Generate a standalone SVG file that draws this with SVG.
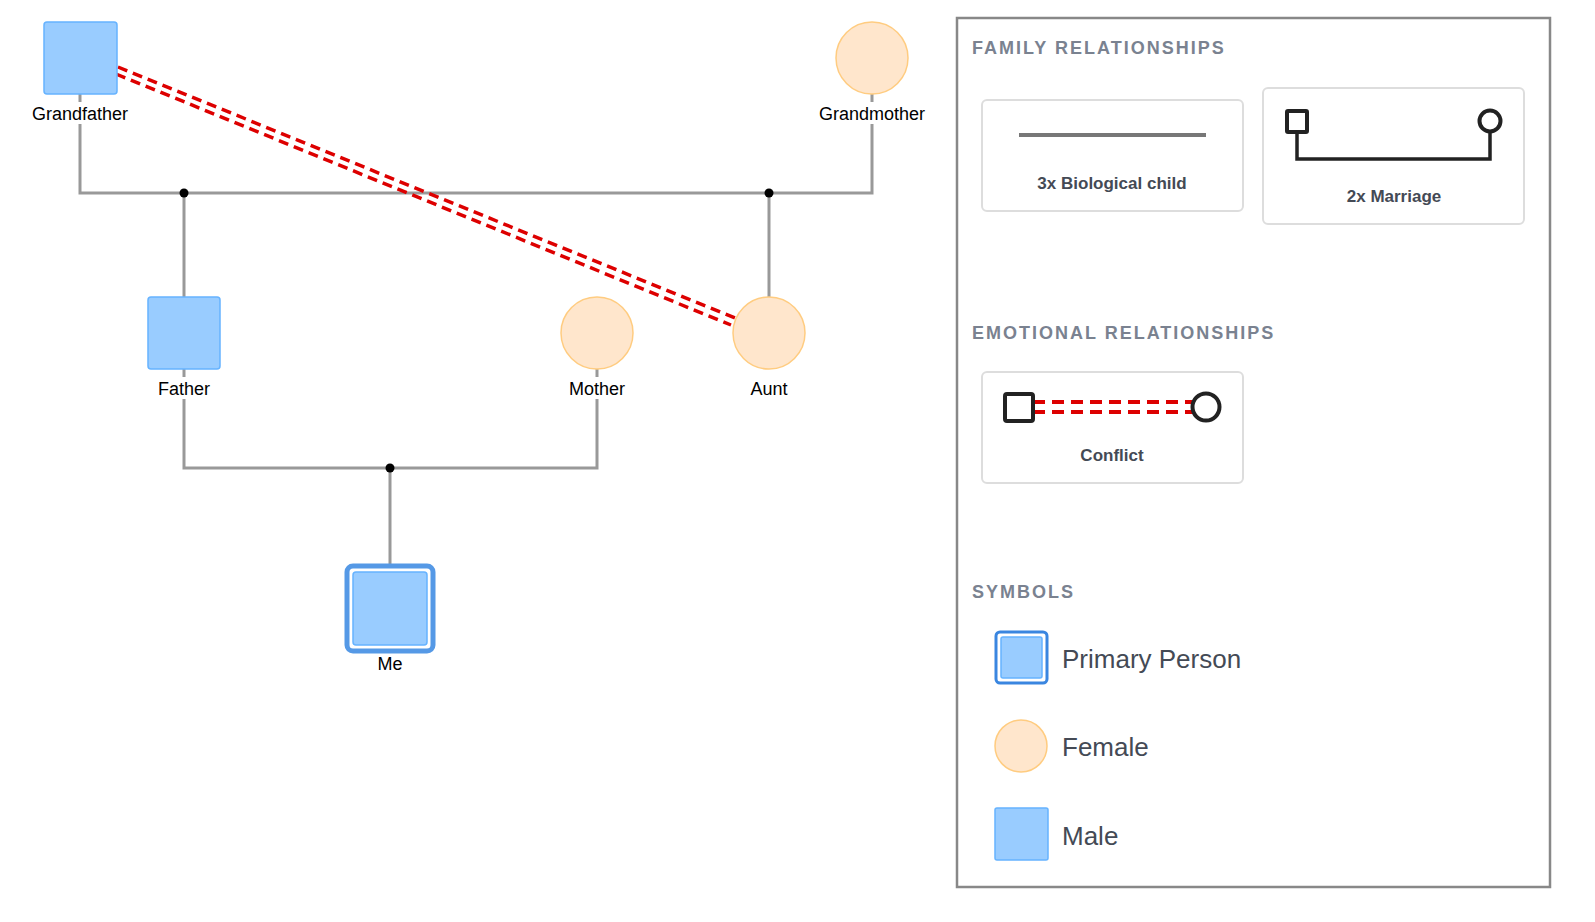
<svg xmlns="http://www.w3.org/2000/svg" width="1595" height="922" viewBox="0 0 1595 922">
<style>
.m{fill:#99ccff;stroke:#66b3ff;stroke-width:1.5}
.f{fill:#ffe6cc;stroke:#ffcc80;stroke-width:1.5}
.lbl{font-family:"Liberation Sans",Arial,sans-serif;font-size:18px;fill:#000;text-anchor:middle}
.ln{stroke:#999;stroke-width:3;fill:none}
.cf{stroke:#dd0000;stroke-width:3.5;stroke-dasharray:10 6;fill:none}
.hd{font-family:"Liberation Sans",Arial,sans-serif;font-size:18px;font-weight:bold;fill:#7a8290;letter-spacing:2px}
.card{fill:#fff;stroke:#ddd;stroke-width:2}
.ct{font-family:"Liberation Sans",Arial,sans-serif;font-size:17px;font-weight:bold;fill:#444a55;text-anchor:middle}
.sy{font-family:"Liberation Sans",Arial,sans-serif;font-size:26px;fill:#444a55}
.bk{stroke:#222;stroke-width:4;fill:#fff}
</style>
<rect width="1595" height="922" fill="#fff"/>
<g id="connectors">
<polyline class="ln" points="80,94 80,193 872,193 872,94"/>
<line class="ln" x1="184" y1="193" x2="184" y2="297"/>
<line class="ln" x1="769" y1="193" x2="769" y2="297"/>
<polyline class="ln" points="184,369 184,468 597,468 597,369"/>
<line class="ln" x1="390" y1="468" x2="390" y2="570"/>
<circle cx="184" cy="193" r="4.5" fill="#000"/>
<circle cx="769" cy="193" r="4.5" fill="#000"/>
<circle cx="390" cy="468" r="4.5" fill="#000"/>
<line class="cf" x1="118" y1="67" x2="735" y2="318"/>
<line class="cf" x1="116" y1="74" x2="731" y2="325"/>
</g>
<g id="grandfather"><rect class="m" x="44" y="22" width="73" height="72" rx="3"/><rect x="50" y="102" width="60" height="22" fill="#fff"/><text class="lbl" x="80" y="120">Grandfather</text></g>
<g id="grandmother"><circle class="f" cx="872" cy="58" r="36"/><rect x="815" y="102" width="114" height="22" fill="#fff"/><text class="lbl" x="872" y="120">Grandmother</text></g>
<g id="father"><rect class="m" x="148" y="297" width="72" height="72" rx="3"/><rect x="156" y="377" width="56" height="22" fill="#fff"/><text class="lbl" x="184" y="395">Father</text></g>
<g id="mother"><circle class="f" cx="597" cy="333" r="36"/><rect x="567" y="377" width="60" height="22" fill="#fff"/><text class="lbl" x="597" y="395">Mother</text></g>
<g id="aunt"><circle class="f" cx="769" cy="333" r="36"/><rect x="747" y="377" width="44" height="22" fill="#fff"/><text class="lbl" x="769" y="395">Aunt</text></g>
<g id="me"><rect x="347" y="566" width="86" height="85" rx="6" fill="#fff" stroke="#5599e6" stroke-width="5"/><rect class="m" x="353" y="572" width="74" height="73" rx="3"/><text class="lbl" x="390" y="670">Me</text></g>
<g id="legend">
<rect x="957" y="18" width="593" height="869" fill="#fff" stroke="#888" stroke-width="2.5"/>
<text class="hd" x="972" y="54">FAMILY RELATIONSHIPS</text>
<rect class="card" x="982" y="100" width="261" height="111" rx="5"/>
<line x1="1019" y1="135" x2="1206" y2="135" stroke="#777" stroke-width="4"/>
<text class="ct" x="1112" y="189">3x Biological child</text>
<rect class="card" x="1263" y="88" width="261" height="136" rx="5"/>
<polyline points="1297,132 1297,159 1490,159 1490,132" fill="none" stroke="#222" stroke-width="3.5"/>
<rect class="bk" x="1287" y="111" width="20" height="21" rx="1" stroke-width="3.5"/>
<circle class="bk" cx="1490" cy="121" r="10.5" stroke-width="3.5"/>
<text class="ct" x="1394" y="202">2x Marriage</text>
<text class="hd" x="972" y="339">EMOTIONAL RELATIONSHIPS</text>
<rect class="card" x="982" y="372" width="261" height="111" rx="5"/>
<line x1="1033" y1="402" x2="1195" y2="402" stroke="#dd0000" stroke-width="4" stroke-dasharray="12 7"/>
<line x1="1033" y1="412" x2="1195" y2="412" stroke="#dd0000" stroke-width="4" stroke-dasharray="12 7"/>
<rect class="bk" x="1005" y="394" width="28" height="27" rx="2"/>
<circle class="bk" cx="1206" cy="407" r="13.5"/>
<text class="ct" x="1112" y="461">Conflict</text>
<text class="hd" x="972" y="598">SYMBOLS</text>
<rect x="996" y="632" width="51" height="51" rx="4" fill="#fff" stroke="#3a86e0" stroke-width="3"/>
<rect class="m" x="1001" y="637" width="41" height="41" rx="2"/>
<text class="sy" x="1062" y="668">Primary Person</text>
<circle class="f" cx="1021" cy="746" r="26"/>
<text class="sy" x="1062" y="756">Female</text>
<rect class="m" x="995" y="808" width="53" height="52" rx="2"/>
<text class="sy" x="1062" y="845">Male</text>
</g>
</svg>
